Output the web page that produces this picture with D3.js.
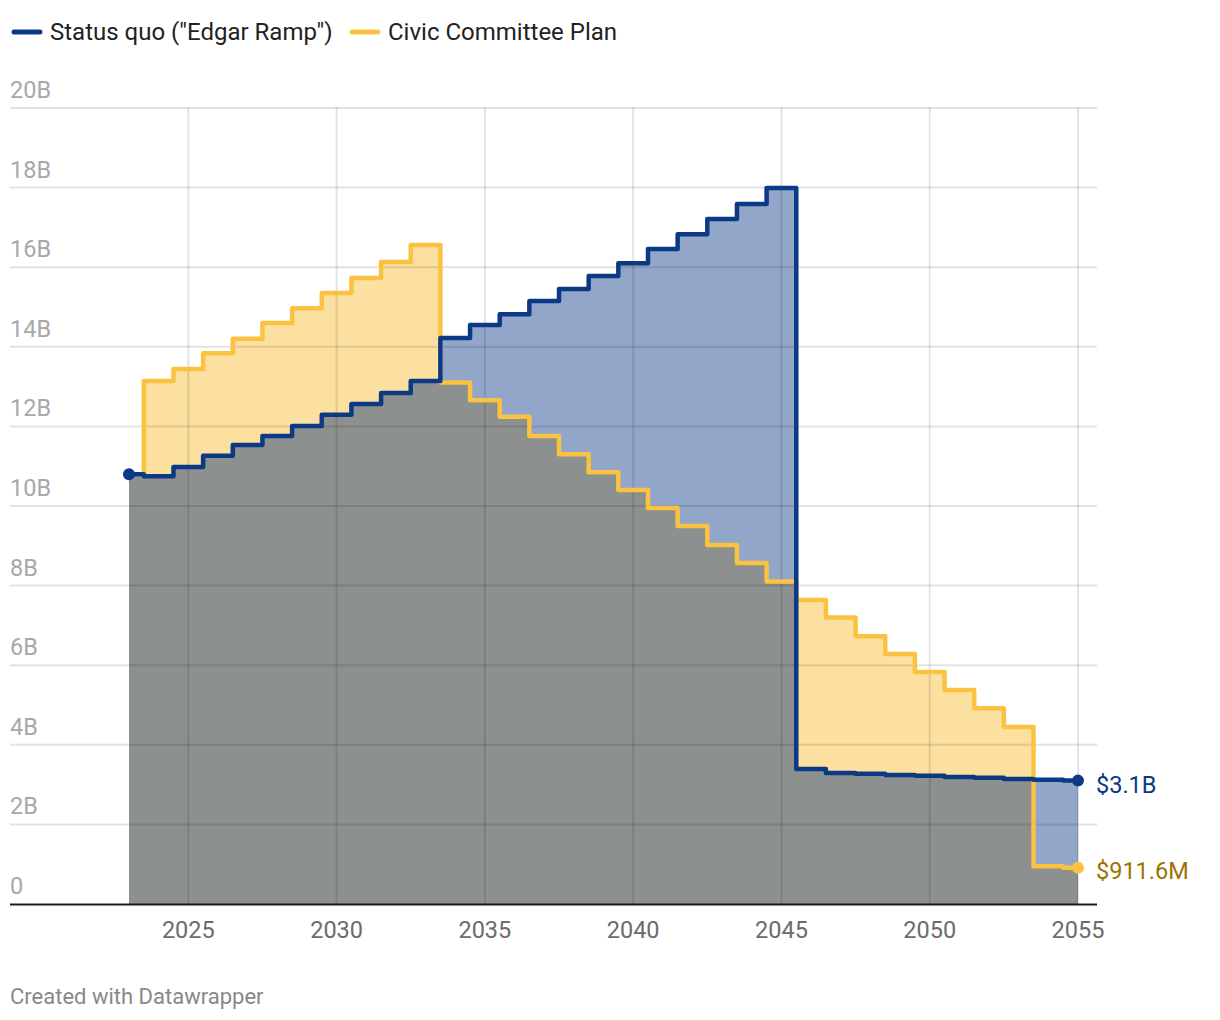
<!DOCTYPE html>
<html><head><meta charset="utf-8">
<script src="https://cdn.jsdelivr.net/npm/d3@7"></script>
<style>
body{margin:0;background:#fff;font-family:Roboto,"Noto Sans",sans-serif;}
svg{display:block}
</style></head>
<body><svg id="c" width="1220" height="1020"></svg>
<script>
const years = d3.range(2023, 2056);
const statusQuo = [10.8,10.75,10.98,11.26,11.53,11.76,12.01,12.29,12.56,12.84,13.14,
  14.22,14.55,14.82,15.15,15.45,15.78,16.1,16.46,16.83,17.21,17.59,17.99,
  3.39,3.29,3.27,3.24,3.22,3.19,3.17,3.14,3.12,3.1];
const civic = [10.8,13.14,13.44,13.84,14.2,14.6,14.97,15.35,15.73,16.13,16.56,
  13.1,12.66,12.24,11.76,11.3,10.85,10.4,9.95,9.5,9.02,8.57,8.1,
  7.64,7.2,6.73,6.28,5.83,5.38,4.92,4.45,0.95,0.9116];
const seriesNames = ['Status quo ("Edgar Ramp")', 'Civic Committee Plan'];
const yTicks = [0,2,4,6,8,10,12,14,16,18,20];
const xTicks = [2025,2030,2035,2040,2045,2050,2055];
const endLabels = ["$3.1B", "$911.6M"];

const svg = d3.select("#c");
const x = d3.scaleLinear().domain([2023, 2055]).range([129, 1078]);
const y = d3.scaleLinear().domain([0, 20]).range([904, 108]);
const blueLine = "#0b3986", yellowLine = "#fbc241";

// legend
const leg = svg.append("g");
[[blueLine, seriesNames[0], 12], [yellowLine, seriesNames[1], 350]].forEach(([c, t, lx]) => {
  leg.append("line").attr("x1", lx + 2).attr("x2", lx + 28).attr("y1", 32).attr("y2", 32)
    .attr("stroke", c).attr("stroke-width", 5).attr("stroke-linecap", "round");
  leg.append("text").attr("x", lx + 38).attr("y", 40).attr("font-size", 24)
    .attr("fill", "#222").text(t);
});

const minVals = statusQuo.map((v, i) => Math.min(v, civic[i]));
const area = vals => d3.area().curve(d3.curveStep)
  .x((d, i) => x(years[i])).y0(y(0)).y1(d => y(d))(vals);
const line = vals => d3.line().curve(d3.curveStep)
  .x((d, i) => x(years[i])).y(d => y(d))(vals);

svg.append("path").attr("d", area(civic)).attr("fill", "#fbe09f");
svg.append("path").attr("d", area(statusQuo)).attr("fill", "#91a6c9");
svg.append("path").attr("d", area(minVals)).attr("fill", "#8c908e");

// gridlines
const grid = svg.append("g").attr("stroke", "rgba(0,0,0,0.11)").attr("stroke-width", 2);
yTicks.filter(t => t > 0).forEach(t => {
  grid.append("line").attr("x1", 10).attr("x2", 1097).attr("y1", y(t)).attr("y2", y(t));
});
xTicks.forEach(t => {
  grid.append("line").attr("x1", x(t)).attr("x2", x(t)).attr("y1", y(20) - 1).attr("y2", y(0));
});

// y labels
yTicks.forEach(t => {
  svg.append("text").attr("x", 10).attr("y", y(t) - 10).attr("font-size", 23.5)
    .attr("fill", "#a8a8a8").text(t === 0 ? "0" : t + "B");
});
// x labels
xTicks.forEach(t => {
  svg.append("text").attr("x", x(t)).attr("y", 938).attr("text-anchor", "middle")
    .attr("font-size", 23.5).attr("fill", "#6c6c6c").text(t);
});

// lines
svg.append("path").attr("d", line(civic)).attr("fill", "none").attr("stroke", yellowLine)
  .attr("stroke-width", 4.5).attr("stroke-linejoin", "round");
svg.append("path").attr("d", line(statusQuo)).attr("fill", "none").attr("stroke", blueLine)
  .attr("stroke-width", 4.5).attr("stroke-linejoin", "round");

// baseline
svg.append("line").attr("x1", 10).attr("x2", 1097).attr("y1", y(0) + 0.5).attr("y2", y(0) + 0.5)
  .attr("stroke", "#1a1a1a").attr("stroke-width", 2);

// dots
svg.append("circle").attr("cx", x(2023)).attr("cy", y(statusQuo[0])).attr("r", 6).attr("fill", blueLine);
svg.append("circle").attr("cx", x(2055)).attr("cy", y(statusQuo[32])).attr("r", 6).attr("fill", blueLine);
svg.append("circle").attr("cx", x(2055)).attr("cy", y(civic[32])).attr("r", 6).attr("fill", yellowLine);

svg.append("text").attr("x", 1096).attr("y", y(statusQuo[32]) + 12.5).attr("font-size", 23.5)
  .attr("fill", "#0b3986").text(endLabels[0]);
svg.append("text").attr("x", 1096).attr("y", y(civic[32]) + 11.5).attr("font-size", 23.5)
  .attr("fill", "#9e7300").text(endLabels[1]);

svg.append("text").attr("x", 10).attr("y", 1004).attr("font-size", 22)
  .attr("fill", "#888").text("Created with Datawrapper");
</script></body></html>
